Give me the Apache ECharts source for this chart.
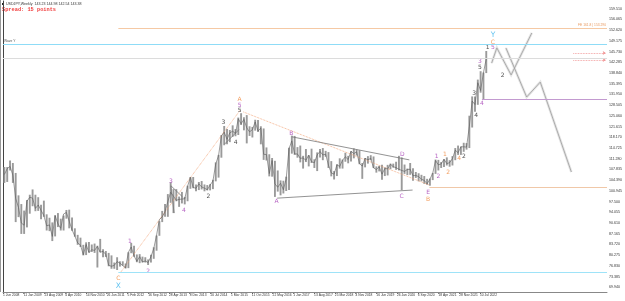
<!DOCTYPE html>
<html>
<head>
<meta charset="utf-8">
<script src="https://cdn.jsdelivr.net/npm/echarts@6/dist/echarts.min.js"></script>
<style>
  html, body { margin: 0; padding: 0; background: #fff; }
  #chart { width: 625px; height: 301px; }
</style>
</head>
<body>
<div id="chart"></div>
<script>
// USDJPY weekly chart, read as monthly ranges (Jun 2008 .. Sep 2022)
const monthHigh = [
  108.6, 108.6, 110.7, 109.9, 106.7, 99.5, 96.7,
  94.6, 98.0, 99.7, 101.4, 99.7, 98.9, 96.5, 97.8, 93.4, 92.3, 90.8, 93.1,
  93.8, 92.0, 93.0, 94.8, 94.9, 92.4, 88.9, 86.8, 85.9, 83.6, 84.4, 84.5,
  83.7, 84.0, 83.3, 85.5, 82.2, 81.6, 81.0, 80.2, 77.9, 79.6, 78.3, 78.3,
  77.6, 81.2, 84.2, 83.3, 80.5, 80.6, 79.8, 79.6, 78.9, 80.4, 82.8, 86.6,
  91.2, 94.5, 96.7, 99.9, 103.7, 101.5, 101.5, 99.1, 100.6, 99.0, 102.6, 105.4,
  105.4, 103.0, 103.8, 104.1, 103.0, 102.8, 103.1, 104.5, 110.1, 112.5, 118.9, 121.8,
  120.8, 120.5, 122.0, 120.8, 124.5, 125.9, 124.6, 125.3, 121.7, 121.5, 123.8, 123.7,
  121.7, 121.0, 114.9, 112.7, 111.5, 110.6, 107.5, 104.3, 104.2, 105.5, 114.8, 118.7,
  118.6, 115.0, 115.5, 112.2, 114.4, 112.4, 114.5, 111.1, 113.3, 114.4, 114.7, 113.8,
  113.4, 110.5, 107.3, 109.5, 111.4, 111.0, 113.2, 112.2, 113.7, 114.6, 114.2, 114.0,
  109.9, 111.5, 112.1, 112.4, 112.0, 108.8, 109.0, 109.3, 108.5, 109.3, 109.7, 109.7,
  110.3, 112.2, 111.7, 109.4, 108.1, 109.9, 108.2, 107.0, 106.6, 106.1, 105.7, 104.8,
  104.9, 106.7, 111.0, 110.9, 110.2, 111.1, 111.7, 110.8, 112.1, 114.7, 115.5, 115.2,
  116.4, 116.3, 125.1, 131.3, 131.3, 136.7, 139.4, 139.0, 145.9
];
const monthLow = [
  103.5, 103.8, 107.5, 103.5, 90.9, 92.5, 87.1,
  87.1, 89.2, 93.6, 96.0, 94.4, 94.5, 91.8, 92.6, 88.2, 88.0, 84.8, 86.3,
  89.3, 88.2, 88.2, 92.0, 88.9, 88.1, 86.2, 83.6, 82.9, 80.2, 80.3, 81.1,
  81.3, 81.0, 76.3, 81.2, 79.6, 79.7, 76.7, 75.9, 75.9, 75.5, 76.6, 76.9,
  76.0, 76.1, 80.9, 79.8, 78.0, 77.7, 77.9, 77.9, 77.1, 77.9, 79.1, 81.7,
  86.5, 90.9, 92.6, 92.6, 97.1, 93.8, 97.6, 95.8, 96.9, 96.6, 97.6, 101.6,
  101.8, 100.8, 101.2, 101.4, 100.8, 101.1, 101.1, 101.5, 104.0, 105.2, 111.6, 115.6,
  115.9, 116.6, 118.3, 118.5, 118.9, 122.1, 120.4, 116.2, 118.6, 118.1, 120.3, 119.9,
  115.9, 110.9, 110.7, 105.6, 105.5, 99.0, 100.7, 99.5, 100.1, 100.9, 101.2, 112.9,
  112.5, 111.6, 110.1, 108.1, 110.2, 108.8, 109.9, 108.3, 107.3, 111.7, 110.8, 111.9,
  108.3, 105.6, 104.6, 105.7, 108.1, 108.1, 110.3, 109.8, 110.4, 111.4, 112.3, 109.5,
  104.8, 108.5, 109.7, 110.8, 108.3, 106.8, 107.2, 104.5, 105.7, 105.9, 107.9, 108.4,
  107.7, 107.5, 101.2, 106.4, 106.0, 106.1, 104.2, 105.1, 104.0, 104.0, 103.2, 102.9,
  102.6, 104.4, 106.4, 107.5, 108.3, 108.6, 109.1, 108.7, 109.1, 110.8, 112.5, 112.5,
  113.5, 114.2, 114.7, 121.3, 126.4, 128.6, 132.5, 130.4, 138.8
];
const monthClose = [
  106.2, 108.1, 108.8, 106.0, 98.5, 95.6, 90.6,
  89.9, 97.6, 98.9, 98.6, 95.3, 96.4, 94.7, 93.0, 89.7, 90.0, 86.3, 93.0,
  90.3, 88.9, 93.5, 94.0, 91.2, 88.4, 86.4, 84.2, 83.5, 80.4, 83.7, 81.1,
  82.0, 81.8, 83.1, 81.2, 81.5, 80.5, 77.0, 76.7, 77.0, 78.2, 77.7, 76.9,
  76.2, 81.2, 82.9, 80.0, 78.3, 79.8, 78.1, 78.4, 77.9, 79.8, 82.4, 86.7,
  91.7, 92.6, 94.2, 97.5, 100.5, 99.2, 97.9, 98.2, 98.3, 98.4, 102.4, 105.3,
  102.0, 101.8, 103.2, 102.2, 101.8, 101.3, 102.8, 104.1, 109.6, 112.3, 118.6, 119.8,
  117.5, 119.6, 120.1, 119.4, 124.1, 122.5, 123.9, 121.2, 119.9, 120.6, 123.1, 120.2,
  121.1, 112.7, 112.6, 106.5, 110.7, 103.2, 102.1, 103.4, 101.3, 104.8, 114.5, 117.0,
  112.8, 112.8, 111.4, 111.5, 110.8, 112.4, 110.3, 110.0, 112.5, 113.6, 112.5, 112.7,
  109.2, 106.7, 106.3, 109.3, 108.8, 110.8, 111.9, 111.0, 113.7, 112.9, 113.5, 109.7,
  108.9, 111.4, 110.9, 111.4, 108.3, 107.8, 108.7, 106.3, 108.1, 108.0, 109.5, 108.7,
  108.4, 107.9, 107.5, 107.2, 107.8, 107.9, 105.8, 105.9, 105.5, 104.7, 104.3, 103.2,
  104.7, 106.6, 110.7, 109.3, 109.6, 111.1, 109.7, 110.0, 111.3, 114.0, 113.2, 115.1,
  115.1, 115.0, 121.7, 129.8, 128.7, 135.7, 133.2, 138.9, 143.4
];

// time axis labels, one every 32 weekly bars
const dateLabels = [
  '1 Jun 2008', '11 Jan 2009', '23 Aug 2009', '4 Apr 2010', '14 Nov 2010', '26 Jun 2011',
  '5 Feb 2012', '16 Sep 2012', '28 Apr 2013', '8 Dec 2013', '20 Jul 2014', '1 Mar 2015',
  '11 Oct 2015', '22 May 2016', '1 Jan 2017', '13 Aug 2017', '25 Mar 2018', '4 Nov 2018',
  '16 Jun 2019', '26 Jan 2020', '6 Sep 2020', '18 Apr 2021', '28 Nov 2021', '10 Jul 2022'
];
const priceTicks = [
  69.940, 73.385, 76.830, 80.275, 83.720, 87.165, 90.610, 94.055, 97.500,
  100.945, 104.390, 107.835, 111.280, 114.725, 118.170, 121.615, 125.060, 128.505,
  131.950, 135.395, 138.840, 142.285, 145.730, 149.175, 152.620, 156.065, 159.510
];

// wave labels: text, week, price, colour
const waveLabels = [
  ['Y', 756, 151.0, 'cyan'], ['C', 756, 148.8, 'orange'],
  ['1', 748, 146.9, 'dark'], ['5', 756, 146.9, 'purple'],
  ['3', 736, 142.4, 'purple'], ['5', 736, 140.7, 'dark'],
  ['3', 727, 132.4, 'dark'], ['4', 739, 129.2, 'purple'], ['4', 730, 125.3, 'dark'],
  ['2', 771, 138.2, 'dark'],
  ['D', 616, 112.5, 'purple'], ['C', 615, 99.3, 'purple'],
  ['1', 669, 112.1, 'purple'], ['2', 672, 105.7, 'purple'],
  ['1', 682, 112.5, 'orange'], ['2', 687, 107.0, 'orange'],
  ['4', 704, 111.5, 'orange'], ['2', 711, 112.1, 'dark'],
  ['E', 656, 100.3, 'purple'], ['B', 656, 98.3, 'orange'],
  ['A', 365, 130.2, 'orange'], ['5', 365, 128.5, 'purple'], ['5', 365, 126.9, 'dark'],
  ['3', 340, 122.8, 'dark'], ['4', 359, 116.6, 'dark'], ['2', 317, 99.0, 'dark'],
  ['B', 445, 119.5, 'purple'], ['A', 422, 97.4, 'purple'],
  ['3', 259, 104.1, 'purple'], ['4', 279, 94.5, 'purple'],
  ['1', 196, 84.8, 'purple'], ['2', 224, 74.9, 'purple'],
  ['C', 178, 72.9, 'orange'], ['X', 178, 70.4, 'cyan']
];
const waveColors = { cyan: '#3cb4ec', orange: '#f0883c', purple: '#a43cb4', dark: '#222' };

// drawn trend lines (week, price)
const trendDotted = [
  [[182, 74.9], [366, 126.9]],
  [[371, 126.3], [658, 102.8]]
];
const trendSolid = [
  [[446, 118.3], [627, 110.9]],
  [[423, 98.6], [632, 101.2]],
  [[259, 102.6], [277, 99.0]],
  [[259, 102.6], [264, 93.8]],
  [[342, 116.0], [364, 120.6]]
];
const projections = [
  [[754, 142.0], [762, 146.9], [784, 138.2], [816, 151.7]],
  [[776, 146.9], [808, 131.1], [829, 135.9], [877, 107.0]]
];

const weeksPerMonth = 4.348;
const bars = monthHigh.map((h, i) => [i * weeksPerMonth + 2.17, monthLow[i], h]);
const closes = monthClose.map((c, i) => [i * weeksPerMonth + 2.17, c]);

const chart = echarts.init(document.getElementById('chart'));
const weekTicks = dateLabels.map((d, i) => i * 32);

const hLine = (p, w0, color, label) => [
  { coord: [w0, p], lineStyle: { color: color, width: 1, type: 'solid' },
    label: label || { show: false } },
  { coord: [932, p] }
];

chart.setOption({
  animation: false,
  grid: { left: 1, right: 16, top: 1, bottom: 9 },
  xAxis: {
    type: 'value', min: 0, max: 932,
    axisLine: { lineStyle: { color: '#888' } },
    axisTick: { customValues: weekTicks, length: 2, lineStyle: { color: '#888' } },
    axisLabel: {
      customValues: weekTicks, hideOverlap: false, showMinLabel: true, showMaxLabel: true,
      formatter: v => dateLabels[Math.round(v / 32)] || '',
      align: 'left', margin: 2, fontFamily: 'Liberation Sans', fontSize: 3.3, color: '#333'
    },
    splitLine: { show: false }
  },
  yAxis: {
    type: 'value', position: 'right', min: 68.43, max: 161.97,
    axisLine: { show: true, lineStyle: { color: '#444', width: 1 } },
    axisTick: { show: false },
    axisLabel: { customValues: priceTicks, hideOverlap: false, formatter: v => v.toFixed(3),
      margin: 2, fontFamily: 'Liberation Sans', fontSize: 3.6, color: '#333' },
    splitLine: { show: false }
  },
  graphic: [
    { type: 'line', shape: { x1: 0.5, y1: 0, x2: 0.5, y2: 292 }, style: { stroke: '#999', lineWidth: 1 } },
    { type: 'rect', shape: { x: 2, y: 3, width: 2, height: 2 }, style: { fill: '#222' } },
    { type: 'text', left: 6, top: 2, style: { text: 'USDJPY,Weekly  143.23 144.98 142.54 143.38', font: '3.6px "Liberation Sans"', fill: '#333' } },
    { type: 'text', left: 2, top: 7, style: { text: 'Spread: 15 points', font: 'bold 5.3px "Liberation Mono"', fill: '#f03c3c' } }
  ],
  series: [
    {
      type: 'custom', name: 'range', data: bars, encode: { x: 0, y: [1, 2] }, silent: true,
      renderItem: (params, api) => {
        const lo = api.coord([api.value(0), api.value(1)]);
        const hi = api.coord([api.value(0), api.value(2)]);
        return { type: 'line', shape: { x1: lo[0], y1: lo[1], x2: hi[0], y2: hi[1] },
          style: { stroke: '#9a9a9a', lineWidth: 1.9 } };
      }
    },
    {
      type: 'line', name: 'close', data: closes, symbol: 'none', silent: true,
      lineStyle: { color: '#5a5a5a', width: 0.6 },
      markLine: {
        silent: true, symbol: 'none',
        data: [
          hLine(153.29, 178, '#f5c9a4', { show: true, position: 'insideEndTop', formatter: 'FE 161.8 | 153.290', fontSize: 3.3, color: '#e89a60', distance: 1 }),
          hLine(148.15, 0, '#8fdcf7', { show: true, position: 'insideStartTop', formatter: 'Wave Y', fontSize: 3.3, color: '#555', distance: 1 }),
          hLine(143.55, 0, '#dcdcdc'),
          hLine(130.47, 739, '#c39ad0'),
          hLine(102.18, 658, '#f0c8a8'),
          hLine(74.86, 178, '#9ee3f8'),
          [{ coord: [932, 148.15], lineStyle: { width: 0 },
             label: { show: true, position: 'end', distance: 0, formatter: '148.150', backgroundColor: '#38b6f0', color: '#fff', fontSize: 3.6, padding: [0.5, 1] } },
           { coord: [932.1, 148.15] }],
          [{ coord: [932, 143.38], lineStyle: { width: 0 },
             label: { show: true, position: 'end', distance: 0, formatter: '143.380', backgroundColor: '#111', color: '#fff', fontSize: 3.6, padding: [0.5, 1] } },
           { coord: [932.1, 143.38] }]
        ]
      }
    },
    {
      type: 'lines', coordinateSystem: 'cartesian2d', polyline: true, silent: true,
      data: trendDotted.map(c => ({ coords: c })),
      lineStyle: { color: '#f2a070', width: 0.8, type: 'dotted', opacity: 1 }
    },
    {
      type: 'lines', coordinateSystem: 'cartesian2d', polyline: true, silent: true,
      data: trendSolid.map(c => ({ coords: c })),
      lineStyle: { color: '#777', width: 0.8, opacity: 1 }
    },
    {
      type: 'lines', coordinateSystem: 'cartesian2d', polyline: true, silent: true,
      data: projections.map(c => ({ coords: c })),
      lineStyle: { color: '#e6e6e6', width: 2.6, opacity: 1 }
    },
    {
      type: 'lines', coordinateSystem: 'cartesian2d', polyline: true, silent: true,
      symbol: ['none', 'arrow'], symbolSize: 4,
      data: projections.map(c => ({ coords: c })),
      lineStyle: { color: '#9c9c9c', width: 0.8, opacity: 1 }
    },
    {
      type: 'lines', coordinateSystem: 'cartesian2d', silent: true,
      symbol: ['none', 'arrow'], symbolSize: 3,
      data: [{ coords: [[880, 145.25], [930, 145.25]] }, { coords: [[880, 143.0], [930, 143.0]] }],
      lineStyle: { color: '#f08a8a', width: 0.8, type: 'dotted', opacity: 1 }
    },
    {
      type: 'scatter', silent: true, symbolSize: 1, itemStyle: { color: 'transparent' },
      data: waveLabels.map(l => ({
        value: [l[1], l[2]],
        label: { show: true, position: 'inside', formatter: l[0], color: waveColors[l[3]],
          fontSize: (l[0] === 'Y' || l[0] === 'X') ? 7.5 : 6, fontFamily: 'DejaVu Sans' }
      }))
    }
  ]
});
</script>
</body>
</html>
